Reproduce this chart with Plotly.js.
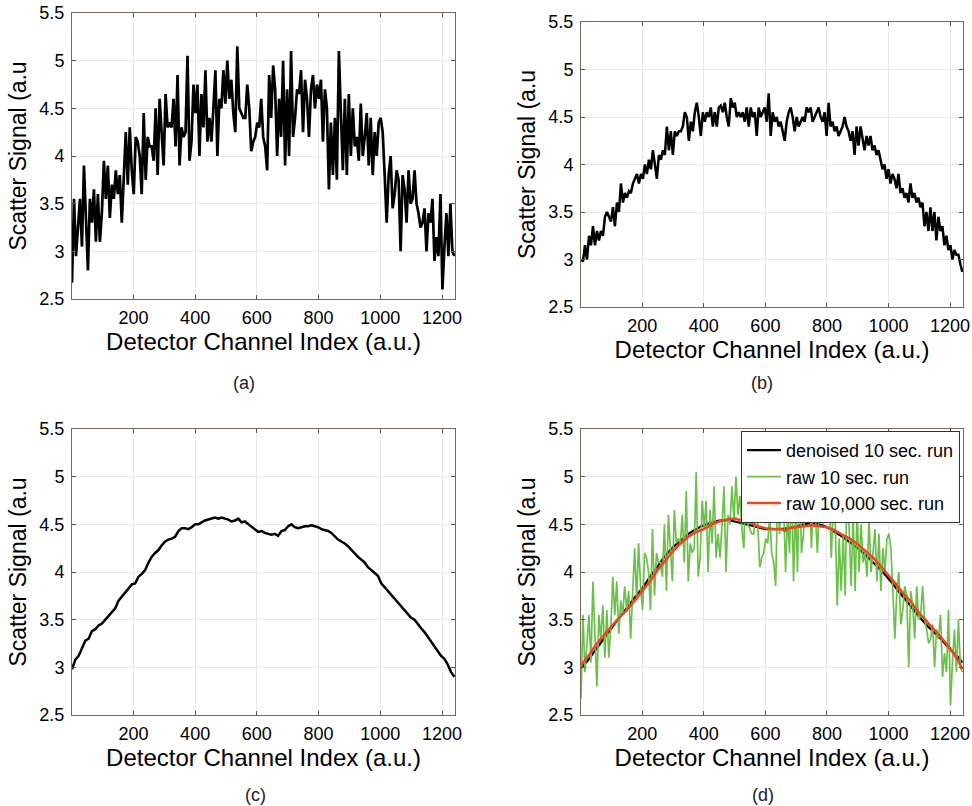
<!DOCTYPE html>
<html>
<head>
<meta charset="utf-8">
<script src="https://cdn.plot.ly/plotly-3.0.1.min.js"></script>
<style>html,body{margin:0;padding:0;background:#fff;}#chart{width:972px;height:806px;}</style>
</head>
<body>
<div id="chart"></div>
<script>
// ---- DATA ----
const xTickVals = [200, 400, 600, 800, 1000, 1200];
const yTickVals = [2.5, 3, 3.5, 4, 4.5, 5, 5.5];
const captions = ["(a)", "(b)", "(c)", "(d)"];
const xTitle = "Detector Channel Index (a.u.)";
const yTitle = "Scatter Signal (a.u";
const firstChannel = 1;
const lastChannel = 1240;

// raw 10 sec run (panel a, and green in panel d), sampled evenly over the channels
const raw10 = [2.67,3.55,2.95,3.3,3.55,3.05,3.9,3.35,2.8,3.55,3.3,3.65,3.1,3.6,3.1,3.4,3.95,3.55,3.9,3.35,
3.7,3.55,3.85,3.6,3.8,3.3,3.75,4.25,3.7,4.3,3.85,3.6,4.2,4.15,4.0,3.6,4.45,3.75,4.2,4.1,
4.1,3.95,4.5,3.8,4.6,4.3,3.9,4.65,4.3,4.35,4.3,4.6,4.1,4.85,3.9,4.3,4.2,4.25,5.05,3.95,
4.15,4.75,4.45,4.75,4.0,4.65,4.3,4.9,4.15,4.4,4.15,4.5,4.9,4.0,4.6,4.5,4.9,4.55,5.0,4.6,
4.8,4.45,4.25,5.15,4.5,4.45,4.4,4.4,4.75,4.5,4.05,4.15,4.2,4.35,4.3,4.6,4.2,4.1,3.85,4.85,
4.4,4.95,4.7,4.0,4.6,4.2,5.0,3.9,4.7,4.0,5.1,4.2,4.4,4.7,4.65,4.9,4.25,4.8,4.6,4.2,
4.7,4.85,4.5,4.75,4.6,4.8,4.15,4.7,4.5,3.65,4.35,3.8,4.4,3.75,5.1,4.45,3.85,4.6,3.8,4.65,
4.0,4.5,4.1,4.2,3.95,4.55,4.0,4.2,4.45,3.9,4.4,3.8,4.25,4.0,4.35,4.4,4.25,3.8,3.3,3.8,
4.0,3.45,3.6,3.85,3.75,3.0,3.8,3.65,3.3,3.85,3.5,3.55,3.85,3.5,3.4,3.25,3.3,3.45,3.0,3.4,
3.3,3.55,2.9,3.15,2.95,3.6,2.6,3.05,3.4,2.95,3.5,3.0,2.95];

// panel b series, sampled evenly over the channels
const seriesB = [3.0,2.98,3.15,3.0,3.25,3.15,3.35,3.15,3.3,3.2,3.3,3.25,3.45,3.5,3.45,3.4,3.55,3.35,3.6,3.5,
3.8,3.6,3.7,3.65,3.72,3.7,3.8,3.85,3.9,3.8,3.9,3.85,4.0,3.9,4.05,3.95,4.15,4.0,3.85,4.1,
4.05,4.15,4.1,4.4,4.15,4.35,4.1,4.35,4.3,4.35,4.35,4.4,4.55,4.5,4.25,4.45,4.35,4.55,4.65,4.5,
4.3,4.55,4.45,4.55,4.5,4.6,4.4,4.55,4.4,4.6,4.62,4.55,4.65,4.5,4.4,4.7,4.6,4.65,4.5,4.55,
4.5,4.55,4.45,4.6,4.4,4.6,4.5,4.55,4.3,4.6,4.5,4.55,4.6,4.45,4.75,4.3,4.55,4.45,4.5,4.4,
4.45,4.35,4.25,4.45,4.55,4.6,4.5,4.35,4.5,4.4,4.45,4.5,4.45,4.6,4.55,4.6,4.45,4.5,4.55,4.6,
4.5,4.45,4.55,4.3,4.65,4.4,4.45,4.35,4.4,4.3,4.35,4.4,4.5,4.4,4.35,4.25,4.35,4.1,4.4,4.2,
4.4,4.25,4.15,4.3,4.2,4.3,4.15,4.2,4.1,4.15,4.05,3.95,4.0,3.85,3.95,3.8,3.9,3.85,3.75,3.9,
3.7,3.75,3.65,3.7,3.6,3.8,3.65,3.7,3.6,3.65,3.55,3.6,3.35,3.5,3.3,3.55,3.3,3.5,3.2,3.45,
3.3,3.35,3.15,3.25,3.1,3.15,3.0,3.1,3.05,3.05,2.95,2.87];

// panel c series, sampled evenly over the channels
const seriesC = [2.98,3.08,3.12,3.2,3.28,3.3,3.38,3.4,3.44,3.46,3.5,3.55,3.58,3.62,3.7,3.74,3.78,3.83,3.87,3.88,
3.95,3.98,4.02,4.1,4.16,4.2,4.23,4.28,4.32,4.34,4.35,4.37,4.43,4.46,4.46,4.45,4.47,4.5,4.5,4.52,
4.54,4.55,4.56,4.57,4.56,4.57,4.56,4.55,4.53,4.54,4.56,4.52,4.53,4.5,4.47,4.44,4.42,4.43,4.41,4.4,
4.39,4.4,4.38,4.43,4.44,4.48,4.5,4.47,4.46,4.47,4.48,4.48,4.49,4.48,4.47,4.45,4.44,4.43,4.41,4.37,
4.34,4.32,4.3,4.27,4.23,4.2,4.16,4.13,4.1,4.05,4.02,3.98,3.96,3.88,3.84,3.8,3.76,3.71,3.68,3.64,
3.6,3.55,3.52,3.5,3.45,3.41,3.37,3.32,3.27,3.23,3.18,3.12,3.09,3.03,2.95,2.9];

// panel d: denoised 10 sec run (black) and raw 10,000 sec run (red)
const chD = [1,25,50,75,100,125,150,175,200,225,250,275,300,325,350,375,400,425,450,475,500,525,550,575,600,625,650,675,700,725,750,775,800,825,850,875,900,925,950,975,1000,1025,1050,1075,1100,1125,1150,1175,1200,1225,1240];
const denoised10 = [2.99,3.08,3.19,3.3,3.41,3.52,3.62,3.73,3.83,3.95,4.06,4.17,4.26,4.33,4.4,4.45,4.49,4.52,4.54,4.54,4.53,4.51,4.49,4.47,4.45,4.45,4.45,4.46,4.48,4.5,4.51,4.5,4.47,4.42,4.37,4.31,4.25,4.18,4.1,4.02,3.93,3.83,3.73,3.63,3.53,3.44,3.36,3.28,3.19,3.11,3.05];
const chRed = [1,25,50,75,100,125,150,175,200,225,250,275,300,325,350,375,400,425,450,475,500,525,550,575,600,625,650,665,675,700,725,750,775,800,825,850,875,900,925,950,975,1000,1025,1050,1075,1100,1125,1150,1175,1200,1225,1240];
const raw10000 = [3.02,3.12,3.24,3.34,3.43,3.52,3.6,3.7,3.8,3.9,4.02,4.12,4.22,4.3,4.37,4.42,4.45,4.5,4.53,4.55,4.56,4.54,4.52,4.48,4.46,4.45,4.45,4.43,4.46,4.47,4.48,4.49,4.48,4.47,4.44,4.39,4.35,4.29,4.22,4.15,4.06,3.97,3.87,3.77,3.68,3.57,3.48,3.4,3.3,3.2,3.08,2.98];
const legendNames = ["denoised 10 sec. run", "raw 10 sec. run", "raw 10,000 sec. run"];

// evenly spaced channel positions for a sampled series
function channelsFor(arr) {
  const n = arr.length, out = [];
  for (let i = 0; i < n; i++) out.push(firstChannel + i * (lastChannel - firstChannel) / (n - 1));
  return out;
}

// ---- LAYOUT ----
const W = 972, H = 806;
const panels = [
  {l: 72, r: 455, t: 13, b: 299, cap: [244, 383]},
  {l: 581, r: 963, t: 22, b: 307, cap: [762, 383]},
  {l: 72, r: 455, t: 429, b: 715, cap: [255, 795]},
  {l: 581, r: 963, t: 429, b: 715, cap: [763, 795]}
];
const FONT = "Liberation Sans, Arial, Helvetica, sans-serif";

const layout = {
  width: W, height: H,
  margin: {l: 0, r: 0, t: 0, b: 0},
  paper_bgcolor: "#ffffff",
  plot_bgcolor: "#ffffff",
  font: {family: FONT, color: "#000", size: 18},
  showlegend: true,
  legend: {
    x: 960 / W, y: 1 - 431 / H, xanchor: "right", yanchor: "top",
    bgcolor: "#ffffff", bordercolor: "#333333", borderwidth: 1,
    font: {family: FONT, size: 18, color: "#000"},
    tracegroupgap: 0, itemwidth: 34
  },
  annotations: []
};

panels.forEach((p, i) => {
  const k = i === 0 ? "" : String(i + 1);
  layout["xaxis" + k] = {
    domain: [p.l / W, p.r / W],
    anchor: "y" + k,
    range: [firstChannel, 1242],
    tickvals: xTickVals,
    ticks: "inside", ticklen: 4, tickcolor: "#555",
    showline: true, linecolor: "#7a6558", linewidth: 1, mirror: "ticks",
    showgrid: true, gridcolor: "#e4e9ee", gridwidth: 1,
    zeroline: false,
    tickfont: {family: FONT, size: 18, color: "#000"},
    ticklabelstandoff: 2,
    title: {text: xTitle, font: {family: FONT, size: 24, color: "#000"}, standoff: 5},
    automargin: false
  };
  layout["yaxis" + k] = {
    domain: [1 - p.b / H, 1 - p.t / H],
    anchor: "x" + k,
    range: [2.5, 5.5],
    tickvals: yTickVals,
    ticks: "inside", ticklen: 4, tickcolor: "#555",
    showline: true, linecolor: "#7a6558", linewidth: 1, mirror: "ticks",
    showgrid: true, gridcolor: "#e4e9ee", gridwidth: 1,
    zeroline: false,
    tickfont: {family: FONT, size: 18, color: "#000"},
    ticklabelstandoff: 3,
    title: {text: yTitle, font: {family: FONT, size: 23, color: "#000"}, standoff: 6},
    automargin: false
  };
  layout.annotations.push({
    xref: "paper", yref: "paper",
    x: p.cap[0] / W, y: 1 - p.cap[1] / H,
    xanchor: "center", yanchor: "middle",
    text: captions[i], showarrow: false,
    font: {family: FONT, size: 18, color: "#222"}
  });
});

const traces = [
  {x: channelsFor(raw10), y: raw10, xaxis: "x", yaxis: "y", mode: "lines",
   line: {color: "#000", width: 2.7}, showlegend: false, hoverinfo: "skip"},
  {x: channelsFor(seriesB), y: seriesB, xaxis: "x2", yaxis: "y2", mode: "lines",
   line: {color: "#000", width: 2.5}, showlegend: false, hoverinfo: "skip"},
  {x: channelsFor(seriesC), y: seriesC, xaxis: "x3", yaxis: "y3", mode: "lines",
   line: {color: "#000", width: 2.5}, showlegend: false, hoverinfo: "skip"},
  {x: chD, y: denoised10, xaxis: "x4", yaxis: "y4", mode: "lines", name: legendNames[0],
   line: {color: "#000", width: 2.2, shape: "spline"}},
  {x: channelsFor(raw10), y: raw10, xaxis: "x4", yaxis: "y4", mode: "lines", name: legendNames[1],
   line: {color: "#6cc04a", width: 1.7}},
  {x: chRed, y: raw10000, xaxis: "x4", yaxis: "y4", mode: "lines", name: legendNames[2],
   line: {color: "#ee4422", width: 2.5}}
];

Plotly.newPlot("chart", traces, layout, {staticPlot: true, displayModeBar: false});
</script>
</body>
</html>
